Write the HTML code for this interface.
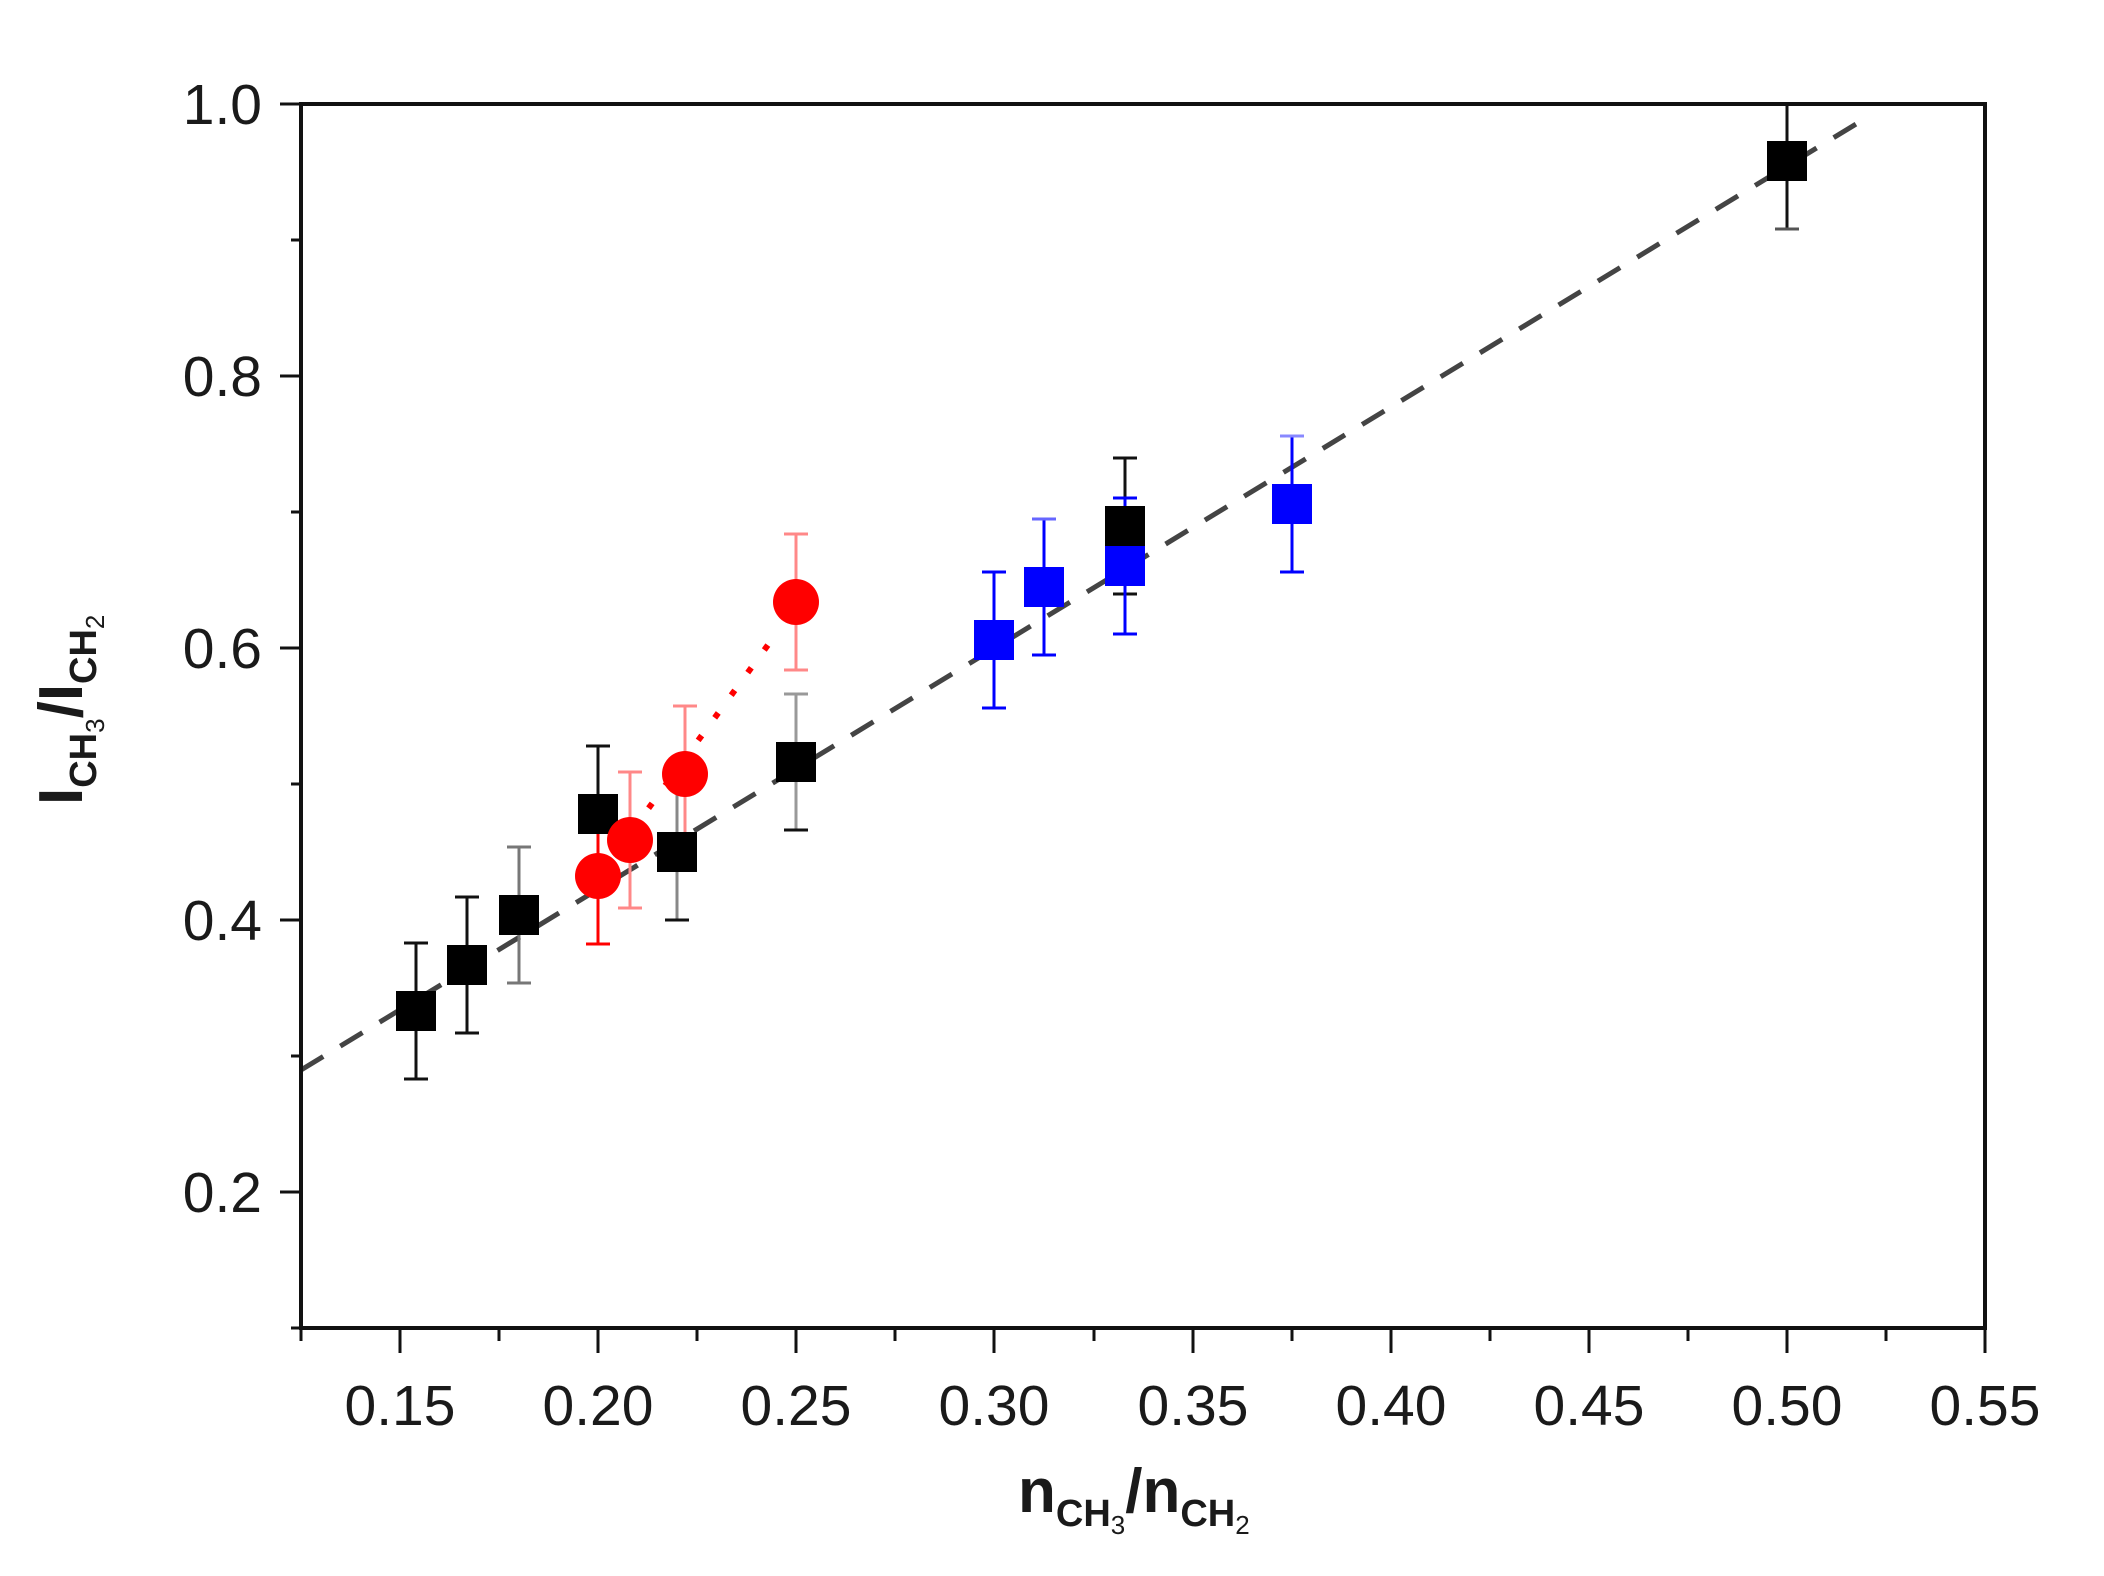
<!DOCTYPE html>
<html><head><style>
html,body{margin:0;padding:0;background:#fff;}
svg{display:block;}
text{font-family:"Liberation Sans",Arial,sans-serif;fill:#1a1a1a;}
</style></head><body>
<svg width="2104" height="1576" viewBox="0 0 2104 1576" xmlns="http://www.w3.org/2000/svg">
<rect x="0" y="0" width="2104" height="1576" fill="#fff"/>
<line x1="301" y1="1070" x2="1866" y2="118" stroke="#444" stroke-width="5" stroke-dasharray="26,20"/>
<line x1="599" y1="876" x2="776" y2="634" stroke="#f00" stroke-width="6" stroke-dasharray="6,22"/>

<g stroke="#111" stroke-width="3">
<line x1="416" y1="943" x2="416" y2="1079"/><line x1="404" y1="943" x2="428" y2="943"/><line x1="404" y1="1079" x2="428" y2="1079"/>
<line x1="467" y1="897" x2="467" y2="1033"/><line x1="455" y1="897" x2="479" y2="897"/><line x1="455" y1="1033" x2="479" y2="1033"/>
<line x1="519" y1="847" x2="519" y2="983" stroke="#777"/><line x1="507" y1="847" x2="531" y2="847" stroke="#777"/><line x1="507" y1="983" x2="531" y2="983" stroke="#777"/>
<line x1="598" y1="746" x2="598" y2="882"/><line x1="586" y1="746" x2="610" y2="746"/><line x1="586" y1="882" x2="610" y2="882"/>
<line x1="677" y1="784" x2="677" y2="920" stroke="#888"/><line x1="665" y1="920" x2="689" y2="920"/>
<line x1="796" y1="694" x2="796" y2="830" stroke="#999"/><line x1="784" y1="694" x2="808" y2="694" stroke="#999"/><line x1="784" y1="830" x2="808" y2="830"/>
<line x1="1125" y1="458" x2="1125" y2="594"/><line x1="1113" y1="458" x2="1137" y2="458"/><line x1="1113" y1="594" x2="1137" y2="594"/>
<line x1="1787" y1="104" x2="1787" y2="229"/><line x1="1775" y1="229" x2="1799" y2="229" stroke="#555"/>
</g>
<g stroke="#00f" stroke-width="3">
<line x1="994" y1="572" x2="994" y2="708"/><line x1="982" y1="572" x2="1006" y2="572"/><line x1="982" y1="708" x2="1006" y2="708"/>
<line x1="1044" y1="519" x2="1044" y2="655"/><line x1="1032" y1="519" x2="1056" y2="519" stroke="#66f"/><line x1="1032" y1="655" x2="1056" y2="655"/>
<line x1="1125" y1="498" x2="1125" y2="634"/><line x1="1113" y1="498" x2="1137" y2="498"/><line x1="1113" y1="634" x2="1137" y2="634"/>
<line x1="1292" y1="436" x2="1292" y2="572"/><line x1="1280" y1="436" x2="1304" y2="436" stroke="#88f"/><line x1="1280" y1="572" x2="1304" y2="572"/>
</g>
<g stroke="#f88" stroke-width="3">
<line x1="598" y1="808" x2="598" y2="944" stroke="#f00"/><line x1="586" y1="808" x2="610" y2="808" stroke="#900"/><line x1="586" y1="944" x2="610" y2="944" stroke="#f00"/>
<line x1="630" y1="772" x2="630" y2="908"/><line x1="618" y1="772" x2="642" y2="772"/><line x1="618" y1="908" x2="642" y2="908"/>
<line x1="685" y1="706" x2="685" y2="842"/><line x1="673" y1="706" x2="697" y2="706"/><line x1="673" y1="842" x2="697" y2="842" stroke="#f00"/>
<line x1="796" y1="534" x2="796" y2="670"/><line x1="784" y1="534" x2="808" y2="534"/><line x1="784" y1="670" x2="808" y2="670"/>
</g>

<g fill="#000">
<rect x="396" y="991" width="40" height="40"/>
<rect x="447" y="945" width="40" height="40"/>
<rect x="499" y="895" width="40" height="40"/>
<rect x="578" y="794" width="40" height="40"/>
<rect x="657" y="832" width="40" height="40"/>
<rect x="776" y="742" width="40" height="40"/>
<rect x="1105" y="506" width="40" height="40"/>
<rect x="1767" y="141" width="40" height="40"/>
</g>
<g fill="#00f">
<rect x="974" y="620" width="40" height="40"/>
<rect x="1024" y="567" width="40" height="40"/>
<rect x="1105" y="546" width="40" height="40"/>
<rect x="1272" y="484" width="40" height="40"/>
</g>
<g fill="#f00">
<circle cx="598" cy="876" r="23"/>
<circle cx="630" cy="840" r="23"/>
<circle cx="685" cy="774" r="23"/>
<circle cx="796" cy="602" r="23"/>
</g>

<rect x="301" y="104" width="1684" height="1224" fill="none" stroke="#111" stroke-width="4"/>
<g stroke="#111" stroke-width="3">
<line x1="280" y1="1192" x2="301" y2="1192"/><line x1="280" y1="920" x2="301" y2="920"/><line x1="280" y1="648" x2="301" y2="648"/><line x1="280" y1="376" x2="301" y2="376"/><line x1="280" y1="104" x2="301" y2="104"/>
<line x1="291" y1="1328" x2="301" y2="1328"/><line x1="291" y1="1056" x2="301" y2="1056"/><line x1="291" y1="784" x2="301" y2="784"/><line x1="291" y1="512" x2="301" y2="512"/><line x1="291" y1="240" x2="301" y2="240"/>
</g>
<g stroke="#111" stroke-width="3">
<line x1="400" y1="1328" x2="400" y2="1353"/><line x1="598" y1="1328" x2="598" y2="1353"/><line x1="796" y1="1328" x2="796" y2="1353"/><line x1="994" y1="1328" x2="994" y2="1353"/><line x1="1193" y1="1328" x2="1193" y2="1353"/><line x1="1391" y1="1328" x2="1391" y2="1353"/><line x1="1589" y1="1328" x2="1589" y2="1353"/><line x1="1787" y1="1328" x2="1787" y2="1353"/><line x1="1985" y1="1328" x2="1985" y2="1353"/>
<line x1="301" y1="1328" x2="301" y2="1341"/><line x1="499" y1="1328" x2="499" y2="1341"/><line x1="697" y1="1328" x2="697" y2="1341"/><line x1="895" y1="1328" x2="895" y2="1341"/><line x1="1094" y1="1328" x2="1094" y2="1341"/><line x1="1292" y1="1328" x2="1292" y2="1341"/><line x1="1490" y1="1328" x2="1490" y2="1341"/><line x1="1688" y1="1328" x2="1688" y2="1341"/><line x1="1886" y1="1328" x2="1886" y2="1341"/>
</g>
<g font-size="57" text-anchor="end">
<text x="262" y="1212">0.2</text>
<text x="262" y="940">0.4</text>
<text x="262" y="668">0.6</text>
<text x="262" y="396">0.8</text>
<text x="262" y="124">1.0</text>
</g>
<g font-size="57" text-anchor="middle">
<text x="400" y="1425">0.15</text>
<text x="598" y="1425">0.20</text>
<text x="796" y="1425">0.25</text>
<text x="994" y="1425">0.30</text>
<text x="1193" y="1425">0.35</text>
<text x="1391" y="1425">0.40</text>
<text x="1589" y="1425">0.45</text>
<text x="1787" y="1425">0.50</text>
<text x="1985" y="1425">0.55</text>
</g>
<text x="1018" y="1512" font-size="62" font-weight="bold">n<tspan font-size="38" dy="14">CH</tspan><tspan font-size="26" font-weight="normal" dy="8">3</tspan><tspan dy="-22">/n</tspan><tspan font-size="38" dy="14">CH</tspan><tspan font-size="26" font-weight="normal" dy="8">2</tspan></text>
<text transform="translate(82,805) rotate(-90)" font-size="62" font-weight="bold">I<tspan font-size="38" dy="14">CH</tspan><tspan font-size="26" font-weight="normal" dy="8">3</tspan><tspan dy="-22">/I</tspan><tspan font-size="38" dy="14">CH</tspan><tspan font-size="26" font-weight="normal" dy="8">2</tspan></text>
</svg>
</body></html>
